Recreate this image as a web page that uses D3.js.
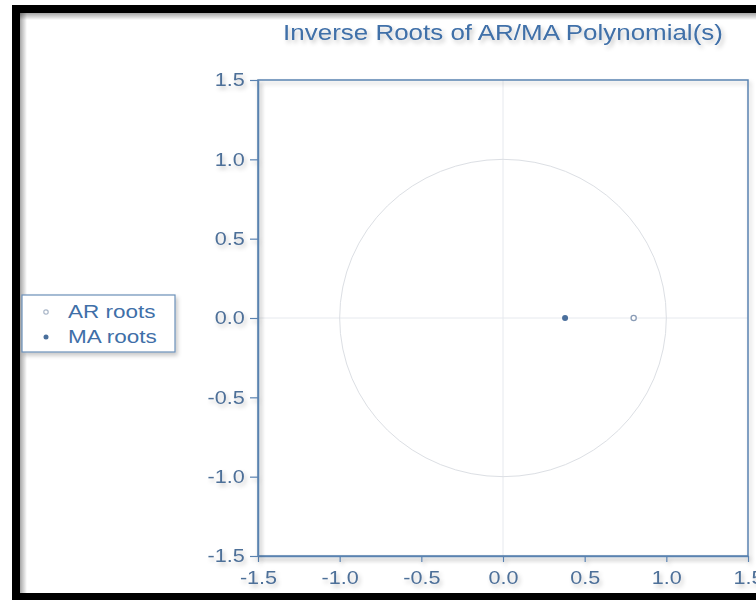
<html>
<head>
    <meta charset="utf-8">
    <script src="https://d3js.org/d3.v7.min.js"></script>
    <style>
        body { margin: 0; background: #fff; }
        text { font-family: "Liberation Sans", Arial, sans-serif; }
        .axis .domain { stroke: #5a82b0; stroke-width: 1.5; }
        .axis line { stroke: #5a82b0; stroke-width: 1.2; }
        .axis text { fill: #4d6f98; font-size: 18px; }
    </style>
</head>
<body>
<svg id="roots" width="756" height="600"></svg>
<script>
// tick values on both axes
const ticks = [-1.5, -1.0, -0.5, 0.0, 0.5, 1.0, 1.5];
// inverse roots (real, imaginary)
const arRoots = [[0.80, 0.0]];
const maRoots = [[0.38, 0.0]];
const legendLabels = ["AR roots", "MA roots"];

const svg = d3.select("svg#roots");
const margin = { top: 80, right: 8, bottom: 44, left: 258 };
const width = 756, height = 600;

const defs = svg.append("defs");
const blur = defs.append("filter").attr("id", "shadow").attr("x", "-10%").attr("y", "-10%").attr("width", "130%").attr("height", "140%");
blur.append("feDropShadow").attr("dx", 2).attr("dy", 3).attr("stdDeviation", 2).attr("flood-color", "#000").attr("flood-opacity", 0.22);

// black frame
svg.append("rect").attr("x", 12).attr("y", 5).attr("width", 760).attr("height", 600).attr("fill", "#000");
svg.append("rect").attr("x", 20).attr("y", 13).attr("width", 760).attr("height", 580).attr("fill", "#fff");
const inner = defs.append("linearGradient").attr("id", "edge");
inner.append("stop").attr("offset", "0").attr("stop-color", "#000").attr("stop-opacity", 0.35);
inner.append("stop").attr("offset", "1").attr("stop-color", "#000").attr("stop-opacity", 0);
svg.append("rect").attr("x", 20).attr("y", 13).attr("width", 7).attr("height", 580).attr("fill", "url(#edge)");
const innerTop = defs.append("linearGradient").attr("id", "edgeTop").attr("x2", 0).attr("y2", 1);
innerTop.append("stop").attr("offset", "0").attr("stop-color", "#000").attr("stop-opacity", 0.35);
innerTop.append("stop").attr("offset", "1").attr("stop-color", "#000").attr("stop-opacity", 0);
svg.append("rect").attr("x", 20).attr("y", 13).attr("width", 740).attr("height", 7).attr("fill", "url(#edgeTop)");

const x = d3.scaleLinear().domain([-1.5, 1.5]).range([margin.left, width - margin.right]);
const y = d3.scaleLinear().domain([-1.5, 1.5]).range([height - margin.bottom, margin.top]);

// the reference type looks horizontally stretched
svg.append("text")
    .attr("transform", `translate(${x(0)},40) scale(1.18,1)`)
    .attr("text-anchor", "middle")
    .attr("fill", "#3f6fa8")
    .attr("font-size", 22)
    .attr("filter", "url(#shadow)")
    .text("Inverse Roots of AR/MA Polynomial(s)");

const plot = svg.append("g");

// zero lines
plot.append("line").attr("x1", x(0)).attr("x2", x(0)).attr("y1", y(1.5)).attr("y2", y(-1.5))
    .attr("stroke", "#e6e9ee").attr("stroke-width", 1);
plot.append("line").attr("x1", x(-1.5)).attr("x2", x(1.5)).attr("y1", y(0)).attr("y2", y(0))
    .attr("stroke", "#e6e9ee").attr("stroke-width", 1);

// unit circle
plot.append("ellipse")
    .attr("cx", x(0)).attr("cy", y(0))
    .attr("rx", x(1) - x(0)).attr("ry", y(0) - y(1))
    .attr("fill", "none").attr("stroke", "#dcdfe4").attr("stroke-width", 1);

// frame box
plot.append("rect")
    .attr("x", x(-1.5)).attr("y", y(1.5))
    .attr("width", x(1.5) - x(-1.5)).attr("height", y(-1.5) - y(1.5))
    .attr("fill", "none").attr("stroke", "#5a82b0").attr("stroke-width", 1.5)
    .attr("filter", "url(#shadow)");

const fmt = d => d3.format(".1f")(d).replace("\u2212", "-");
const bottom = svg.append("g").attr("class", "axis")
    .attr("transform", `translate(0,${y(-1.5)})`)
    .call(d3.axisBottom(x).tickValues(ticks).tickFormat(fmt).tickSize(6).tickSizeOuter(0).tickPadding(9))
    .attr("filter", "url(#shadow)");
bottom.selectAll(".tick text").attr("transform", "scale(1.2,1)");
const left = svg.append("g").attr("class", "axis")
    .attr("transform", `translate(${x(-1.5)},0)`)
    .call(d3.axisLeft(y).tickValues(ticks).tickFormat(fmt).tickSize(8).tickSizeOuter(0).tickPadding(3))
    .attr("filter", "url(#shadow)");
left.selectAll(".tick text").attr("transform", "scale(1.2,1)");

// roots
plot.selectAll("circle.ar").data(arRoots).join("circle")
    .attr("class", "ar")
    .attr("cx", d => x(d[0])).attr("cy", d => y(d[1])).attr("r", 2.6)
    .attr("fill", "#fff").attr("stroke", "#8a9cb6").attr("stroke-width", 1.3);
plot.selectAll("circle.ma").data(maRoots).join("circle")
    .attr("class", "ma")
    .attr("cx", d => x(d[0])).attr("cy", d => y(d[1])).attr("r", 3)
    .attr("fill", "#4a6f9c");

// legend
const legend = svg.append("g").attr("transform", "translate(22,295)");
legend.append("rect").attr("width", 153).attr("height", 57)
    .attr("fill", "#fff").attr("stroke", "#6b8fb8").attr("stroke-width", 1.2)
    .attr("filter", "url(#shadow)");
const items = legend.selectAll("g.item").data(legendLabels).join("g")
    .attr("class", "item")
    .attr("transform", (d, i) => `translate(0,${17 + i * 25})`);
items.append("circle")
    .attr("cx", 24).attr("cy", 0)
    .attr("r", (d, i) => i === 0 ? 2.2 : 2.5)
    .attr("fill", (d, i) => i === 0 ? "#fff" : "#4a6f9c")
    .attr("stroke", (d, i) => i === 0 ? "#a9b6c8" : "none")
    .attr("stroke-width", 1.2);
items.append("text")
    .attr("transform", "translate(46,6) scale(1.25,1)")
    .attr("fill", "#3f6fa8")
    .attr("font-size", 18)
    .text(d => d);
</script>
</body>
</html>
